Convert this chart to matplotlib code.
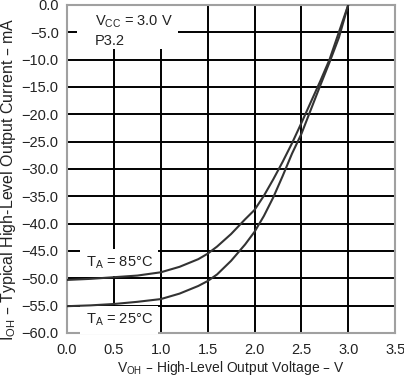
import matplotlib
matplotlib.use('Agg')
import matplotlib.pyplot as plt
from matplotlib.patches import Rectangle
import numpy as np

plt.rcParams['font.family'] = ['Liberation Sans', 'DejaVu Sans']
plt.rcParams['mathtext.default'] = 'regular'

# V_OH (V) and I_OH (mA)
v_oh = [0.0, 0.25, 0.5, 0.75, 1.0, 1.2, 1.4, 1.5, 1.6, 1.75, 1.9, 2.0,
        2.1, 2.2, 2.3, 2.4, 2.5, 2.6, 2.7, 2.8, 2.9, 3.0]
i_85c = [-50.3, -50.1, -49.8, -49.5, -48.9, -47.9, -46.5, -45.5, -44.2, -41.9,
         -39.2, -37.5, -34.9, -31.9, -28.7, -25.3, -21.6, -17.8, -14.0, -10.0,
         -5.0, 0.0]
i_25c = [-55.1, -54.95, -54.7, -54.3, -53.8, -52.8, -51.4, -50.5, -49.3, -46.8,
         -43.8, -41.5, -38.6, -35.2, -31.3, -27.2, -23.6, -19.2, -14.8, -10.5,
         -6.0, 0.0]

x_ticks = np.arange(0, 3.51, 0.5)
y_ticks = np.arange(-60, 0.1, 5)

txt = '#222222'

fig = plt.figure(figsize=(4.04, 3.76), dpi=100)
ax = fig.add_axes([0.166, 0.1144, 0.812, 0.8726])

ax.plot(v_oh, i_85c, color='#333333', lw=1.5, zorder=5)
ax.plot(v_oh, i_25c, color='#333333', lw=1.5, zorder=5)

ax.set_xlim(0, 3.5)
ax.set_ylim(-60, 0)
ax.set_xticks(x_ticks)
ax.set_yticks(y_ticks)
ax.set_xticklabels(['%.1f' % v for v in x_ticks], fontsize=10.5)
ax.set_yticklabels(['%.1f' % v if v == 0 else '\u2212%.1f' % abs(v) for v in y_ticks],
                   fontsize=10.5)
ax.tick_params(length=0, colors=txt)
ax.tick_params(axis='y', pad=6)
ax.tick_params(axis='x', pad=7)
ax.grid(True, color='black', lw=1.4)
ax.set_axisbelow(True)
for s in ax.spines.values():
    s.set_color('#a0a0a0')
    s.set_linewidth(1.5)

ax.set_xlabel('V$_{OH}$ \u2013 High-Level Output Voltage \u2013 V', fontsize=10,
              color=txt, labelpad=2)
ax.set_ylabel('I$_{OH}$ \u2013 Typical High-Level Output Current \u2013 mA', fontsize=11.5,
              color=txt)
ax.yaxis.set_label_coords(-0.15, 0.47)

# white patch behind the supply note
ax.add_patch(Rectangle((0.11, -8.0), 1.07, 8.0, facecolor='white', edgecolor='none', zorder=2))
ax.text(0.3, -3.1, 'V$_{CC}$ = 3.0 V', fontsize=10.5, color=txt, va='center', ha='left', zorder=4)
ax.text(0.3, -6.6, 'P3.2', fontsize=10.5, color=txt, va='center', ha='left', zorder=4)

box = dict(facecolor='white', edgecolor='none', pad=4)
ax.text(0.2, -47.1, 'T$_{A}$ = 85°C', fontsize=10.5, color=txt,
        va='center', ha='left', bbox=box, zorder=4)
ax.text(0.2, -57.6, 'T$_{A}$ = 25°C', fontsize=10.5, color=txt,
        va='center', ha='left', bbox=box, zorder=4)

fig.savefig('out.png', dpi=100)
